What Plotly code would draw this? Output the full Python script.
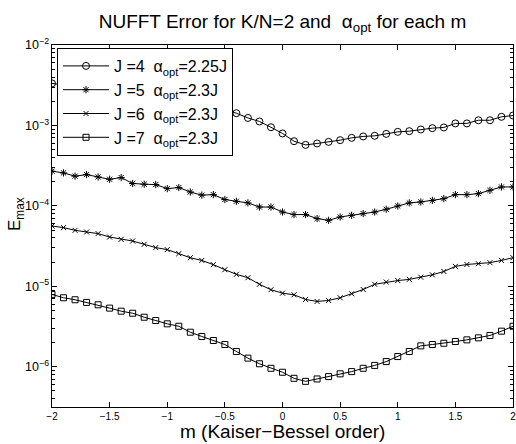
import plotly.graph_objects as go

m_values = [-2.0, -1.9, -1.8, -1.7, -1.6, -1.5, -1.4, -1.3, -1.2, -1.1, -1.0,
            -0.9, -0.8, -0.7, -0.6, -0.5, -0.4, -0.3, -0.2, -0.1, 0.0,
            0.1, 0.2, 0.3, 0.4, 0.5, 0.6, 0.7, 0.8, 0.9, 1.0,
            1.1, 1.2, 1.3, 1.4, 1.5, 1.6, 1.7, 1.8, 1.9, 2.0]

err_J4 = [3.33e-3, 3.2e-3, 3.1e-3, 2.95e-3, 2.85e-3, 2.7e-3, 2.6e-3, 2.5e-3, 2.4e-3, 2.3e-3, 2.2e-3,
          2.05e-3, 1.95e-3, 1.8e-3, 1.7e-3, 1.55e-3, 1.42e-3, 1.24e-3, 1.12e-3, 9.5e-4, 7.95e-4,
          6.37e-4, 5.73e-4, 5.97e-4, 6.25e-4, 6.56e-4, 7.01e-4, 7.30e-4, 7.43e-4, 7.86e-4, 8.32e-4,
          8.49e-4, 8.91e-4, 9.25e-4, 9.44e-4, 1.06e-3, 1.06e-3, 1.16e-3, 1.16e-3, 1.28e-3, 1.33e-3]

err_J5 = [2.70e-4, 2.57e-4, 2.34e-4, 2.45e-4, 2.29e-4, 2.14e-4, 2.25e-4, 1.90e-4, 1.86e-4, 1.84e-4, 1.64e-4,
          1.69e-4, 1.49e-4, 1.36e-4, 1.38e-4, 1.20e-4, 1.14e-4, 1.09e-4, 9.68e-5, 9.68e-5, 8.39e-5,
          7.80e-5, 7.80e-5, 6.95e-5, 6.62e-5, 7.28e-5, 7.64e-5, 8.02e-5, 8.39e-5, 9.08e-5, 9.97e-5,
          1.09e-4, 1.12e-4, 1.17e-4, 1.23e-4, 1.38e-4, 1.38e-4, 1.42e-4, 1.56e-4, 1.72e-4, 1.72e-4]

err_J6 = [5.62e-5, 5.37e-5, 4.97e-5, 4.73e-5, 4.52e-5, 4.10e-5, 3.84e-5, 3.66e-5, 3.33e-5, 3.03e-5, 2.86e-5,
          2.55e-5, 2.27e-5, 2.10e-5, 1.86e-5, 1.61e-5, 1.41e-5, 1.28e-5, 1.06e-5, 9.08e-6, 8.22e-6,
          7.85e-6, 6.87e-6, 6.49e-6, 6.67e-6, 7.21e-6, 8.09e-6, 9.14e-6, 1.06e-5, 1.13e-5, 1.18e-5,
          1.22e-5, 1.30e-5, 1.39e-5, 1.53e-5, 1.77e-5, 1.87e-5, 1.91e-5, 1.97e-5, 2.10e-5, 2.27e-5]

err_J7 = [7.93e-6, 7.21e-6, 6.81e-6, 6.31e-6, 5.90e-6, 5.36e-6, 4.91e-6, 4.63e-6, 4.13e-6, 3.76e-6, 3.42e-6,
          3.19e-6, 2.69e-6, 2.38e-6, 2.12e-6, 1.89e-6, 1.55e-6, 1.28e-6, 1.09e-6, 9.57e-7, 8.55e-7,
          7.19e-7, 6.59e-7, 7.06e-7, 7.55e-7, 8.17e-7, 8.71e-7, 9.57e-7, 1.04e-6, 1.16e-6, 1.34e-6,
          1.55e-6, 1.82e-6, 1.89e-6, 1.96e-6, 2.06e-6, 2.16e-6, 2.29e-6, 2.45e-6, 2.77e-6, 3.19e-6]

NB = "\u00a0"
series_names = [f"J =4{NB}{NB}α<sub>opt</sub>=2.25J", f"J =5{NB}{NB}α<sub>opt</sub>=2.3J",
                f"J =6{NB}{NB}α<sub>opt</sub>=2.3J", f"J =7{NB}{NB}α<sub>opt</sub>=2.3J"]
series_values = [err_J4, err_J5, err_J6, err_J7]
series_symbols = ["circle-open", "asterisk-open", "x-thin-open", "square-open"]
series_sizes = [7, 6, 5, 6]

x_ticks = [-2, -1.5, -1, -0.5, 0, 0.5, 1, 1.5, 2]
x_tick_labels = ["−2", "−1.5", "−1", "−0.5", "0", "0.5", "1", "1.5", "2"]

FONT = "Liberation Sans, Arial, Helvetica, sans-serif"
W, H = 516, 444
L, R, T, B = 52, 513, 45, 407

fig = go.Figure()
for name, vals, sym, sz in zip(series_names, series_values, series_symbols, series_sizes):
    fig.add_trace(go.Scatter(
        x=m_values, y=vals, mode="lines+markers", name=name,
        line=dict(color="black", width=1),
        marker=dict(symbol=sym, size=sz, color="black", line=dict(color="black", width=1)),
    ))

fig.update_layout(
    width=W, height=H,
    margin=dict(l=L, r=W - R, t=T, b=H - B, autoexpand=False),
    paper_bgcolor="white", plot_bgcolor="white",
    font=dict(family=FONT, color="black"),
    title=dict(text=f"NUFFT Error for K/N=2 and{NB}{NB}α<sub>opt</sub> for each m",
               x=(L + R) / 2 / W, xanchor="center", xref="container",
               y=1 - 21 / H, yanchor="middle", yref="container",
               font=dict(size=19, family=FONT, color="black")),
    showlegend=True,
    legend=dict(x=(57 - L) / (R - L), y=(B - 48) / (B - T), xanchor="left", yanchor="top",
                bgcolor="white", bordercolor="black", borderwidth=1,
                font=dict(size=16, family=FONT, color="black"),
                itemwidth=46),
    xaxis=dict(range=[-2, 2], tickvals=x_ticks, ticktext=x_tick_labels,
               ticks="inside", ticklen=5, tickcolor="black", automargin=False,
               ticklabeloverflow="allow",
               showline=True, linecolor="black", linewidth=1, mirror="ticks",
               showgrid=False, zeroline=False,
               tickfont=dict(size=10, family=FONT)),
    yaxis=dict(type="log", range=[-6.5, -2], dtick=1, exponentformat="power",
               ticks="inside", ticklen=5, tickcolor="black", automargin=False,
               ticklabeloverflow="allow",
               showline=True, linecolor="black", linewidth=1, mirror="ticks",
               showgrid=False, zeroline=False,
               minor=dict(ticks="inside", ticklen=3, tickcolor="black", dtick="D1", showgrid=False),
               tickfont=dict(size=10, family=FONT)),
    annotations=[
        dict(text="m (Kaiser−Bessel order)", xref="paper", yref="paper",
             x=0.5, y=-(431 - B) / (B - T), xanchor="center", yanchor="middle",
             showarrow=False, font=dict(size=19, family=FONT, color="black")),
        dict(text="E<sub>max</sub>", xref="paper", yref="paper",
             x=-(L - 16) / (R - L), y=(B - 214) / (B - T), xanchor="center", yanchor="middle",
             textangle=-90, showarrow=False, font=dict(size=17, family=FONT, color="black")),
    ],
)

fig.write_html(
    "out.html",
    config={"displayModeBar": False},
    post_script="document.body.style.margin='0';document.body.style.padding='0';"
                "document.body.style.overflow='hidden';"
                "document.documentElement.style.overflow='hidden';",
)
